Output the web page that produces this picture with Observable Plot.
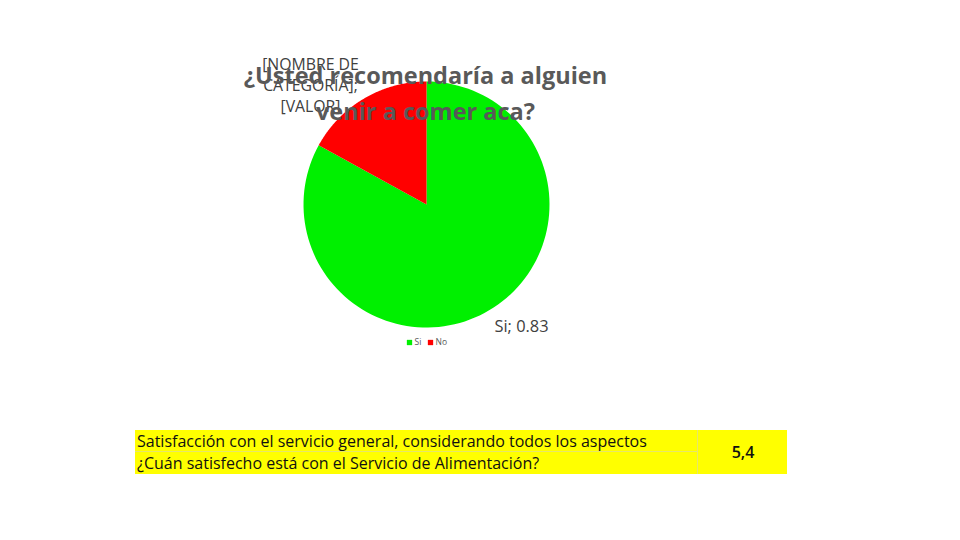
<!DOCTYPE html>
<html><head><meta charset="utf-8">
<script src="https://cdn.jsdelivr.net/npm/d3@7"></script>
<script src="https://cdn.jsdelivr.net/npm/@observablehq/plot@0.6"></script>
<style>
body{margin:0;background:#fff;}
#c{position:relative;width:960px;height:540px;overflow:hidden;}
#c svg{position:absolute;left:0;top:0;}
#tbl{position:absolute;left:135px;top:430px;width:652px;height:44px;background:#ffff00;font-family:"Open Sans",sans-serif;font-size:16px;color:#111;}
#tbl .r{position:absolute;left:0;width:562px;height:22px;line-height:22px;padding-left:2px;box-sizing:border-box;white-space:nowrap;}
#tbl .v{position:absolute;left:562px;top:0;width:90px;height:44px;line-height:44px;text-align:center;border-left:1px solid #e6e66a;font-weight:600;}
</style>
</head><body>
<div id="c"></div>
<script>
// ---- data ----
const categories = ["Si", "No"];
const values = [0.83, 0.17];
const colors = ["#00f000", "#ff0000"];
const titleLines = ["¿Usted recomendaría a alguien", "venir a comer aca?"];
const placeholderLabel = "[NOMBRE DE\nCATEGORÍA];\n[VALOR]";
const tableRows = ["Satisfacción con el servicio general, considerando todos los aspectos", "¿Cuán satisfecho está con el Servicio de Alimentación?"];
const tableValue = "5,4";

// ---- layout ----
const W = 960, H = 540, cx = 426, cy = 204, R = 123;

const arcs = d3.pie().sort(null)(values);
const pts = [];
arcs.forEach((a, i) => {
  const name = categories[i];
  pts.push({name, x: cx, y: cy});
  const n = 120;
  for (let k = 0; k <= n; k++) {
    const t = a.startAngle + (a.endAngle - a.startAngle) * k / n;
    pts.push({name, x: cx + R * Math.sin(t), y: cy - R * Math.cos(t)});
  }
  pts.push({name, x: cx, y: cy});
});

const font = "'Open Sans', sans-serif";
const chart = Plot.plot({
  width: W, height: H, margin: 0,
  x: {domain: [0, W], range: [0, W], axis: null},
  y: {domain: [0, H], range: [0, H], axis: null},
  color: {domain: categories, range: colors},
  style: {fontFamily: font, background: "transparent"},
  marks: [
    Plot.line(pts, {x: "x", y: "y", z: "name", fill: "name", stroke: null, curve: "linear"}),
    // data labels
    Plot.text([placeholderLabel], {x: 310, y: 84, text: d => d, fontSize: 15.8, fill: "#404040", lineHeight: 1.33, textAnchor: "middle"}),
    Plot.text([`${categories[0]}; ${values[0]}`], {x: 521, y: 326, text: d => d, fontSize: 16.4, fill: "#404040"}),
    // title
    Plot.text(titleLines, {x: 425, y: (d, i) => 76 + i * 36, text: d => d, fontSize: 23.5, fontWeight: "bold", fill: "#595959"}),
    // legend
    Plot.dot(categories, {x: (d, i) => 409 + i * 21, y: 342, symbol: "square", r: 3, fill: d => d, stroke: null}),
    Plot.text(categories, {x: (d, i) => 414 + i * 21, y: 342, text: d => d, fontSize: 8.5, fill: "#595959", textAnchor: "start"})
  ]
});
const c = document.getElementById("c");
c.appendChild(chart);

const tbl = document.createElement("div");
tbl.id = "tbl";
tableRows.forEach((t, i) => {
  const r = document.createElement("div");
  r.className = "r";
  r.style.top = (i * 22) + "px";
  if (i === 0) r.style.borderBottom = "1px solid #e6e66a";
  r.textContent = t;
  tbl.appendChild(r);
});
const v = document.createElement("div");
v.className = "v";
v.textContent = tableValue;
tbl.appendChild(v);
c.appendChild(tbl);
</script>
</body></html>
